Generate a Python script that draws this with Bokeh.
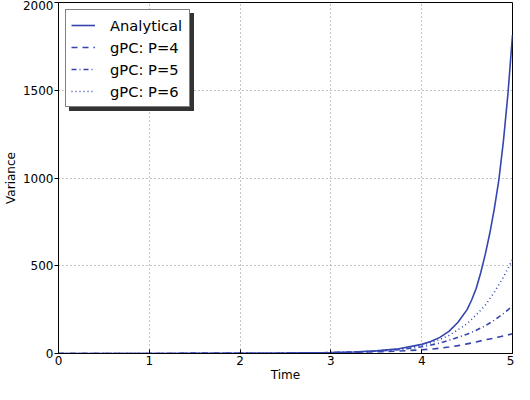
from bokeh.plotting import figure
from bokeh.models import FixedTicker, Legend, LegendItem, Range1d
from bokeh.embed import file_html
from bokeh.resources import INLINE

# ---- data ----
time = [0, 0.5, 1.0, 1.5, 2.0, 2.5, 3.0, 3.25, 3.5, 3.75, 4.0, 4.1, 4.2, 4.3,
        4.4, 4.5, 4.55, 4.6, 4.65, 4.7, 4.75, 4.8, 4.85, 4.9, 4.95, 5.0]
analytical = [0, 0.08, 0.22, 0.5, 1.0, 2.1, 5.2, 8.6, 14.9, 27, 52, 68, 92, 126,
              178, 250, 305, 370, 460, 565, 685, 825, 990, 1210, 1480, 1815]
gpc_p4 = [0, 0.08, 0.22, 0.5, 1.0, 2.0, 4.2, 6.5, 9.5, 14, 21, 25, 30, 37,
          45, 55, 60, 66, 72, 78, 83, 88, 94, 100, 106, 112]
gpc_p5 = [0, 0.08, 0.22, 0.5, 1.0, 2.1, 5.0, 8.0, 13, 22, 38, 48, 60, 75,
          92, 110, 121, 132, 145, 158, 174, 190, 209, 228, 249, 270]
gpc_p6 = [0, 0.08, 0.22, 0.5, 1.0, 2.1, 5.2, 8.5, 14.5, 26, 48, 62, 80, 103,
          135, 170, 195, 220, 247, 275, 312, 350, 392, 435, 485, 535]
series_labels = ["Analytical", "gPC: P=4", "gPC: P=5", "gPC: P=6"]
x_ticks = [0, 1, 2, 3, 4, 5]
y_ticks = [0, 500, 1000, 1500, 2000]

FONT = "DejaVu Sans"
LINE_COLOR = "#3545b0"

p = figure(width=514, height=384, output_backend="svg", toolbar_location=None,
           x_range=Range1d(0, 5), y_range=Range1d(0, 2000),
           min_border_left=55, min_border_right=2, min_border_top=2,
           min_border_bottom=10, background_fill_color="white",
           border_fill_color="white")

r_an = p.line(time, analytical, line_color=LINE_COLOR, line_width=1.6)
r_p4 = p.line(time, gpc_p4, line_color=LINE_COLOR, line_width=1.6, line_dash="6 5")
r_p5 = p.line(time, gpc_p5, line_color=LINE_COLOR, line_width=1.6, line_dash="5 3 1 3")
r_p6 = p.line(time, gpc_p6, line_color=LINE_COLOR, line_width=1.6, line_dash="1 3")
renderers = [r_an, r_p4, r_p5, r_p6]

# axes
p.xaxis.ticker = FixedTicker(ticks=x_ticks)
p.yaxis.ticker = FixedTicker(ticks=y_ticks)
p.xaxis.axis_label = "Time"
p.yaxis.axis_label = "Variance"
for ax in (p.xaxis, p.yaxis):
    ax.axis_label_text_font = FONT
    ax.axis_label_text_font_size = "12px"
    ax.axis_label_text_font_style = "normal"
    ax.axis_label_text_color = "black"
    ax.major_label_text_font = FONT
    ax.major_label_text_font_size = "12px"
    ax.major_label_text_color = "black"
    ax.axis_line_color = "black"
    ax.major_tick_line_color = "black"
    ax.minor_tick_line_color = None
p.yaxis.major_tick_out = 4
p.yaxis.major_tick_in = 0
p.yaxis.major_label_standoff = 1
p.yaxis.axis_label_standoff = 2
p.xaxis.major_tick_out = 0
p.xaxis.major_tick_in = 4
p.xaxis.major_label_standoff = 2
p.xaxis.axis_label_standoff = 0

# grid
p.xgrid.ticker = FixedTicker(ticks=x_ticks)
p.ygrid.ticker = FixedTicker(ticks=y_ticks)
p.grid.grid_line_color = "#8a8a8a"
p.grid.grid_line_dash = "1 3"
p.grid.grid_line_width = 1

p.outline_line_color = "black"
p.outline_line_width = 1
p.outline_line_alpha = 1

legend_style = dict(location="top_left", padding=5, spacing=2, label_height=20,
                    glyph_height=20, glyph_width=24, label_standoff=15,
                    label_width=74, label_text_font=FONT,
                    label_text_font_size="14.7px", border_line_width=1)

# drop shadow behind the legend: same box size, blank labels
shadow = Legend(items=[LegendItem(label=" ", renderers=[r]) for r in renderers],
                margin=11, background_fill_color="#333333",
                background_fill_alpha=1, border_line_color="#333333",
                label_text_color="#333333", **legend_style)
legend = Legend(items=[LegendItem(label=l, renderers=[r])
                       for l, r in zip(series_labels, renderers)],
                margin=7, background_fill_color="white",
                background_fill_alpha=1, border_line_color="black",
                label_text_color="black", **legend_style)
p.add_layout(shadow)
p.add_layout(legend)

open("out.html", "w").write(file_html(p, INLINE))
